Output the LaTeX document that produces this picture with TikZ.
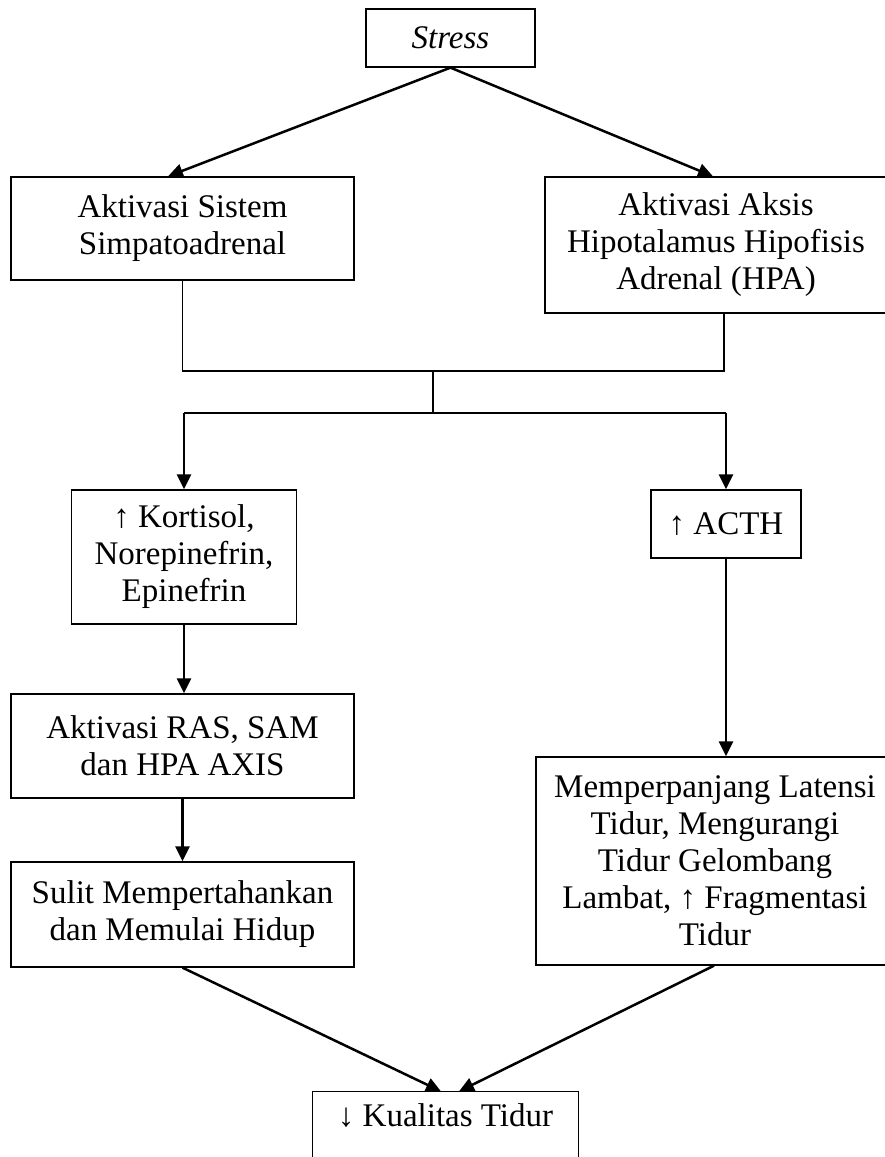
\documentclass[tikz,border=0pt]{standalone}
\usepackage{fontspec}
\setmainfont{Liberation Serif}
\usetikzlibrary{arrows.meta}
\begin{document}
\begin{tikzpicture}[x=1pt,y=-1pt,
  box/.style={draw, line width=1.3pt, align=center, inner sep=0pt,
    font=\fontsize{33}{37}\selectfont},
  arr/.style={line width=2.5pt, -{Triangle[length=15pt,width=14pt]}},
  thinline/.style={line width=1.3pt}]
\useasboundingbox (0,0) rectangle (885,1157);
% boxes
\node[box, minimum width=169pt, minimum height=58pt] (stress) at (450.5,38) {\textit{Stress}};
\node[box, minimum width=343pt, minimum height=103pt] (lb) at (182.5,228.5) {Aktivasi Sistem\\Simpatoadrenal};
\node[box, minimum width=342pt, minimum height=136pt] (rb) at (716,245) {Aktivasi Aksis\\Hipotalamus Hipofisis\\Adrenal (HPA)};
\node[box, minimum width=225pt, minimum height=134pt] (kort) at (184,557) {\raisebox{-4pt}{\parbox{225pt}{\centering ↑ Kortisol,\\Norepinefrin,\\Epinefrin}}};
\node[box, minimum width=150pt, minimum height=68pt] (acth) at (726,524) {↑ ACTH};
\node[box, minimum width=343pt, minimum height=104pt] (ras) at (182.5,746) {Aktivasi RAS, SAM\\dan HPA AXIS};
\node[box, minimum width=343pt, minimum height=105pt] (sulit) at (182.5,914.5) {Sulit Mempertahankan\\dan Memulai Hidup};
\node[box, minimum width=358pt, minimum height=208pt] (r3) at (715,861) {\raisebox{-5pt}{\parbox{358pt}{\centering Memperpanjang Latensi\\Tidur, Mengurangi\\Tidur Gelombang\\Lambat, ↑ Fragmentasi\\Tidur}}};
\node[box, draw=none, minimum width=265pt, minimum height=48pt] (kual) at (445.5,1116) {↓ Kualitas Tidur};
\draw[line width=1.3pt] (kual.north west) rectangle ([yshift=-30pt]kual.south east);
% junction coordinates
\coordinate (j1) at (433,371);
\coordinate (j2) at (433,413);
% connectors
\draw[arr] (stress.south) -- ([xshift=-14.5pt]lb.north);
\draw[arr] (stress.south) -- ([xshift=-3pt]rb.north);
\draw[thinline] (lb.south) |- (j1) -| ([xshift=8pt]rb.south);
\draw[thinline] (j1) -- (j2);
\draw[thinline] (kort.north |- j2) -- (acth.north |- j2);
\draw[arr] (kort.north |- j2) -- (kort.north);
\draw[arr] (acth.north |- j2) -- (acth.north);
\draw[arr] (kort.south) -- (kort.south |- ras.north);
\draw[arr] (ras.south) -- (sulit.north);
\draw[arr] (acth.south) -- (acth.south |- r3.north);
\draw[arr] (sulit.south) -- ([xshift=-4.5pt]kual.north);
\draw[arr] ([xshift=-1pt]r3.south) -- ([xshift=13.5pt]kual.north);
\end{tikzpicture}
\end{document}
